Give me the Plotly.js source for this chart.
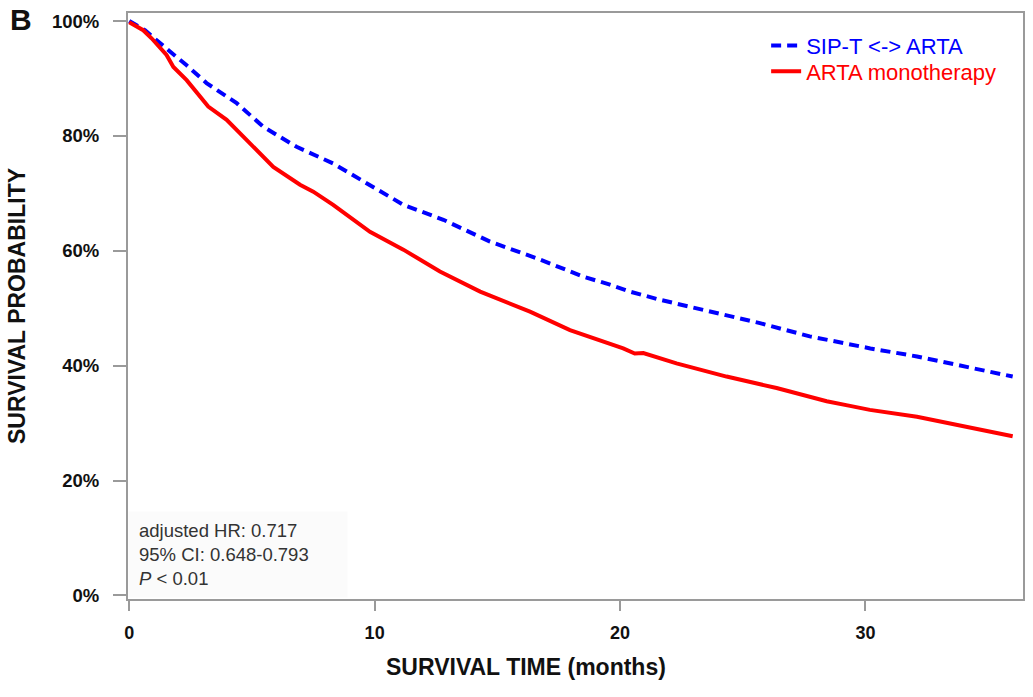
<!DOCTYPE html>
<html>
<head>
<meta charset="utf-8">
<script src="https://cdn.plot.ly/plotly-3.0.1.min.js"></script>
<style>html,body{margin:0;padding:0;background:#fff;}#chart{width:1033px;height:697px;}</style>
</head>
<body>
<div id="chart"></div>
<script>
// Months and survival probability (%)
var timeSipt = [0, 0.64, 1.66, 2.34, 3.15, 4.38, 5.46, 6.82, 8.31, 9.81, 10.2, 11.17, 12.8, 14.7, 16.6, 18.5, 19.59, 20.4, 21.6, 23.66, 25.7, 27.73, 29.37, 30.2, 32.1, 34.1, 36.0];
var survSipt = [100, 98.4, 94.7, 92.3, 89.2, 85.7, 81.6, 78.1, 75.2, 71.4, 70.6, 68.0, 65.4, 61.6, 58.7, 55.5, 54.1, 52.9, 51.5, 49.4, 47.4, 45.1, 43.6, 43.0, 41.6, 39.8, 38.1];

var timeMono = [0, 0.57, 0.91, 1.52, 1.8, 2.34, 3.22, 3.97, 4.85, 5.87, 6.96, 7.5, 8.31, 8.86, 9.81, 11.17, 12.66, 14.3, 16.33, 17.96, 19.3, 19.59, 20.13, 20.6, 20.95, 22.3, 24.34, 26.38, 28.42, 29.37, 30.18, 32.1, 34.1, 36.0];
var survMono = [99.8, 98.4, 97.0, 94.1, 92.0, 89.7, 85.1, 82.8, 79.0, 74.6, 71.5, 70.3, 68.0, 66.2, 63.3, 60.2, 56.4, 52.9, 49.4, 46.2, 44.2, 43.9, 43.0, 42.1, 42.2, 40.4, 38.1, 36.1, 33.8, 33.0, 32.3, 31.1, 29.4, 27.7];

var seriesNames = ['SIP-T &lt;-&gt; ARTA', 'ARTA monotherapy'];
var xTickVals = [0, 10, 20, 30];
var yTickVals = [0, 20, 40, 60, 80, 100];
var yTickText = ['0%', '20%', '40%', '60%', '80%', '100%'];
var statsLines = ['adjusted HR: 0.717', '95% CI: 0.648-0.793', '<i>P</i> &lt; 0.01'];

var FONT = 'Liberation Sans, Arial, Helvetica, sans-serif';

var traces = [
  {x: timeSipt, y: survSipt, name: seriesNames[0], type: 'scatter', mode: 'lines', legend: 'legend',
   line: {color: '#0000ff', width: 4, dash: '10px,6px'}},
  {x: timeMono, y: survMono, name: seriesNames[1], type: 'scatter', mode: 'lines', legend: 'legend2',
   line: {color: '#ff0000', width: 4}}
];

var legendBase = {xanchor: 'left', yanchor: 'top', bgcolor: 'rgba(0,0,0,0)', itemwidth: 30};

var layout = {
  width: 1033, height: 697,
  margin: {l: 128, r: 10, t: 13, b: 98},
  paper_bgcolor: '#ffffff', plot_bgcolor: '#ffffff',
  font: {family: FONT, color: '#111'},
  showlegend: true,
  legend: Object.assign({}, legendBase, {x: 0.713, y: 0.98, font: {family: FONT, size: 22, color: '#0000ff'}}),
  legend2: Object.assign({}, legendBase, {x: 0.713, y: 0.936, font: {family: FONT, size: 22, color: '#ff0000'}}),
  xaxis: {range: [-0.05, 36.42], tickvals: xTickVals, ticks: 'outside', ticklen: 10, tickwidth: 2,
          tickcolor: '#9a9a9a', showline: true, linecolor: '#9a9a9a', linewidth: 2, mirror: true,
          showgrid: false, zeroline: false, ticklabelstandoff: 6,
          tickfont: {family: FONT, size: 18, color: '#111', weight: 'bold'}},
  yaxis: {range: [-0.63, 101.4], tickvals: yTickVals, ticktext: yTickText, ticks: 'outside', ticklen: 13, tickwidth: 2,
          tickcolor: '#9a9a9a', showline: true, linecolor: '#9a9a9a', linewidth: 2, mirror: true,
          showgrid: false, zeroline: false, ticklabelstandoff: 10,
          tickfont: {family: FONT, size: 18.5, color: '#111', weight: 'bold'},
          title: {text: 'SURVIVAL PROBABILITY', standoff: 20,
                  font: {family: FONT, size: 23, color: '#111', weight: 'bold'}}},
  annotations: [
    {xref: 'paper', yref: 'paper', x: 0.0, y: 0.002, xanchor: 'left', yanchor: 'bottom',
     text: statsLines.join('<br>'), align: 'left', valign: 'middle', showarrow: false,
     width: 198, height: 65, bgcolor: '#fbfbfb', borderpad: 10,
     font: {family: FONT, size: 18.5, color: '#333'}},
    {xref: 'paper', yref: 'paper', x: (526 - 128) / 895, y: -(667 - 599) / 586, xanchor: 'center', yanchor: 'middle',
     text: 'SURVIVAL TIME (months)', showarrow: false,
     font: {family: FONT, size: 23, color: '#111', weight: 'bold'}},
    {xref: 'paper', yref: 'paper', x: -(128 - 8) / 895, y: 1 + (13 - 20) / 586, xanchor: 'left', yanchor: 'middle',
     text: '<b>B</b>', showarrow: false,
     font: {family: FONT, size: 30, color: '#111'}}
  ]
};

Plotly.newPlot('chart', traces, layout, {displayModeBar: false, staticPlot: true});
</script>
</body>
</html>
